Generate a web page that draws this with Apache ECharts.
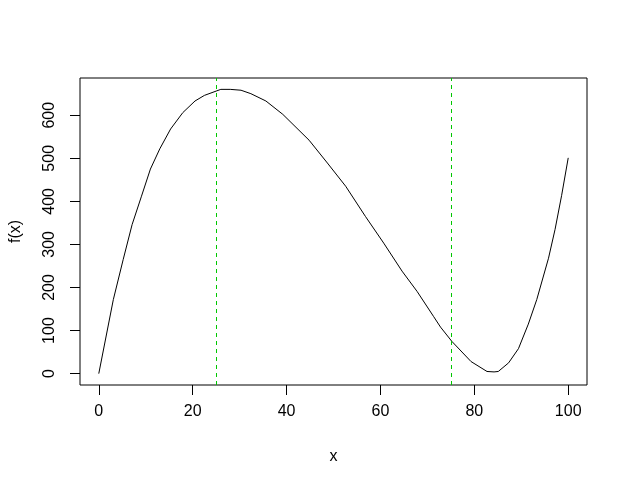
<!DOCTYPE html>
<html>
<head>
<meta charset="utf-8">
<script src="https://cdn.jsdelivr.net/npm/echarts@6/dist/echarts.min.js"></script>
<style>
html,body{margin:0;padding:0;background:#fff;}
#chart{width:628px;height:484px;}
</style>
</head>
<body>
<div id="chart"></div>
<script>
// values
const xValues = [0, 3.1, 5.2, 7.1, 9.1, 11.0, 13.0, 15.3, 17.9, 20.5, 22.5, 25, 26, 28, 30.3, 32.4, 35.6, 39.2, 44.8, 48.7, 52.6, 56.8, 60.7, 64.6, 67.8, 71.3, 72.8, 75.2, 79.3, 82.7, 84.2, 85.1, 87.3, 89.4, 91.5, 93.3, 95.8, 97.2, 98.6, 100];
const fValues = [0, 172, 265, 346, 412, 475, 522, 568, 606, 633, 646, 656, 660, 660, 658, 650, 633, 602, 542, 489, 435, 365, 303, 238, 191, 133, 108, 75, 28, 5, 4, 5, 25, 58, 115, 172, 268, 335, 414, 501];
const vLines = [25, 75];
const xTicks = [0, 20, 40, 60, 80, 100];
const yTicks = [0, 100, 200, 300, 400, 500, 600];

const seriesData = xValues.map((x, i) => [x, fValues[i]]);
const font = "'Liberation Sans', Arial, sans-serif";

const chart = echarts.init(document.getElementById('chart'), null, {renderer: 'canvas'});
chart.setOption({
  animation: false,
  backgroundColor: '#ffffff',
  grid: {left: 78, top: 78, width: 509, height: 307, show: true, borderColor: '#000', borderWidth: 1, backgroundColor: 'transparent'},
  xAxis: {
    type: 'value', min: -4, max: 104,
    name: 'x', nameLocation: 'middle', nameGap: 64,
    nameTextStyle: {color: '#000', fontSize: 16, fontFamily: font},
    axisLine: {show: false, onZero: false},
    splitLine: {show: false},
    axisTick: {show: true, inside: false, length: 10, lineStyle: {color: '#000', width: 1}, customValues: xTicks},
    axisLabel: {color: '#000', fontSize: 16, fontFamily: font, margin: 19, customValues: xTicks}
  },
  yAxis: {
    type: 'value', min: -26.4, max: 686.4,
    name: 'f(x)', nameLocation: 'middle', nameGap: 56, nameRotate: 90,
    nameTextStyle: {color: '#000', fontSize: 16, fontFamily: font},
    axisLine: {show: false, onZero: false},
    splitLine: {show: false},
    axisTick: {show: true, inside: false, length: 10, lineStyle: {color: '#000', width: 1}, customValues: yTicks},
    axisLabel: {color: '#000', fontSize: 16, fontFamily: font, margin: 22, rotate: 90, customValues: yTicks}
  },
  series: [{
    type: 'line',
    data: seriesData,
    showSymbol: false,
    smooth: false,
    lineStyle: {color: '#000', width: 1},
    markLine: {
      silent: true,
      symbol: ['none', 'none'],
      label: {show: false},
      lineStyle: {color: '#00C800', width: 1, type: [4, 4]},
      data: vLines.map(v => ({xAxis: v}))
    }
  }]
});
</script>
</body>
</html>
